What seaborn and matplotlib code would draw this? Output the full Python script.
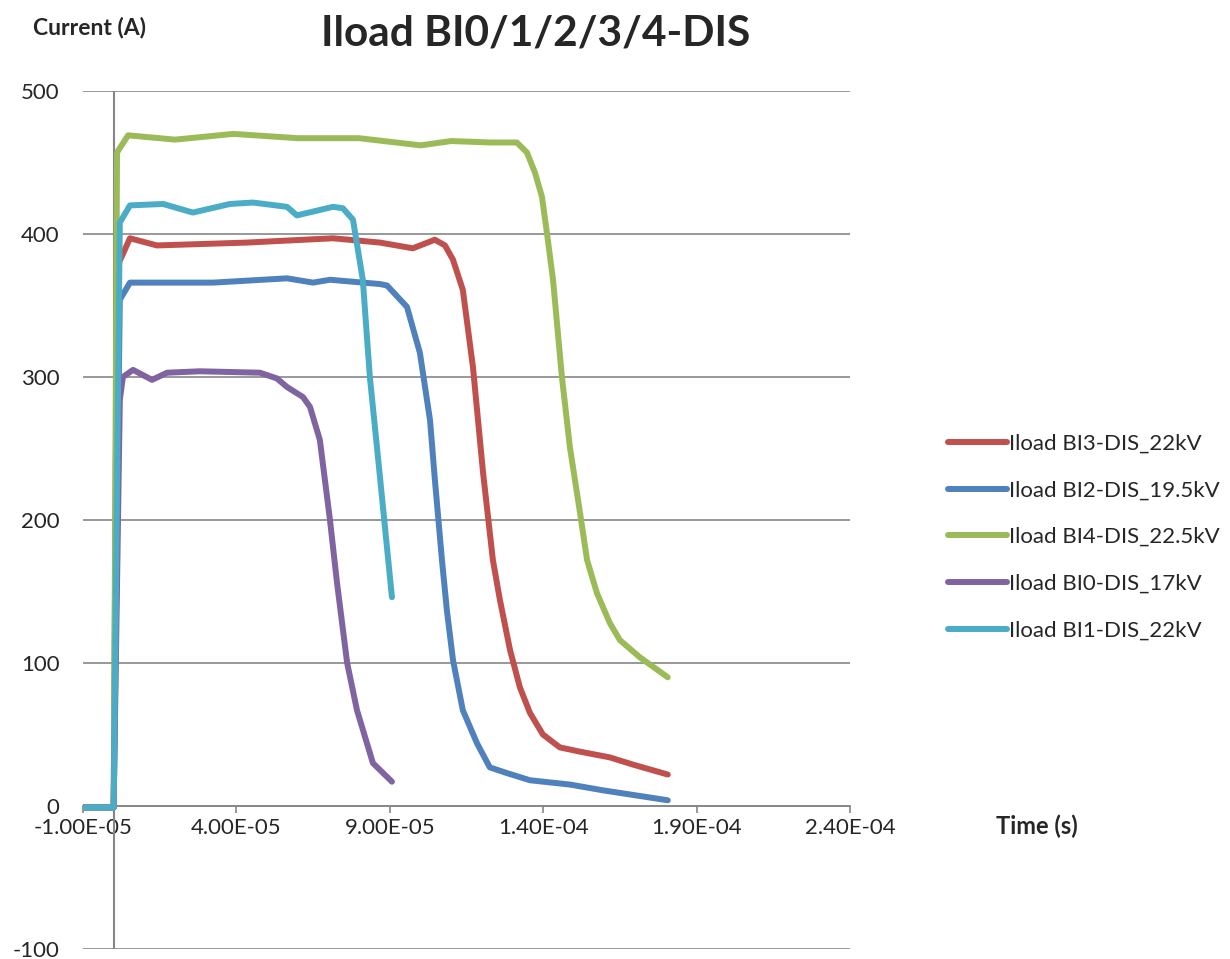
import numpy as np
import pandas as pd
import matplotlib
matplotlib.use("Agg")
import matplotlib.pyplot as plt
import seaborn as sns

# Values (time in s, current in A)
bi3_t = [-1.0e-5, -5.0e-6, 0.0, 1.1e-6, 5.3e-6, 1.41e-5, 4.34e-5, 7.15e-5, 8.68e-5, 9.75e-5, 1.047e-4,
         1.08e-4, 1.106e-4, 1.138e-4, 1.171e-4, 1.204e-4, 1.236e-4, 1.259e-4, 1.292e-4, 1.324e-4,
         1.357e-4, 1.399e-4, 1.454e-4, 1.520e-4, 1.617e-4, 1.692e-4, 1.806e-4]
bi3_i = [-1, -1, -1, 377, 397, 392, 394, 397, 394, 390, 396,
         392, 382, 361, 307, 233, 172, 144, 109, 83,
         65, 50, 41, 38, 34, 29, 22]

bi2_t = [-1.0e-5, -5.0e-6, 0.0, 2.0e-6, 5.3e-6, 3.24e-5, 5.65e-5, 6.5e-5, 7.05e-5, 8.68e-5, 8.91e-5,
         9.56e-5, 9.98e-5, 1.031e-4, 1.047e-4, 1.070e-4, 1.086e-4, 1.106e-4, 1.138e-4, 1.184e-4,
         1.226e-4, 1.282e-4, 1.357e-4, 1.487e-4, 1.594e-4, 1.806e-4]
bi2_i = [-1, -1, -1, 354, 366, 366, 369, 366, 368, 365, 364,
         349, 317, 270, 228, 172, 137, 102, 67, 44,
         27, 23, 18, 15, 11, 4]

bi4_t = [-1.0e-5, -5.0e-6, 0.0, 1.1e-6, 4.7e-6, 2.0e-5, 3.9e-5, 6.0e-5, 8.0e-5, 1.0e-4, 1.1e-4,
         1.227e-4, 1.314e-4, 1.347e-4, 1.373e-4, 1.396e-4, 1.412e-4, 1.432e-4, 1.461e-4, 1.487e-4,
         1.520e-4, 1.543e-4, 1.575e-4, 1.617e-4, 1.650e-4, 1.715e-4, 1.806e-4]
bi4_i = [-1, -1, -1, 457, 469, 466, 470, 467, 467, 462, 465,
         464, 464, 457, 443, 426, 401, 368, 300, 251,
         205, 172, 149, 128, 116, 104, 90]

bi0_t = [-1.0e-5, -5.0e-6, 0.0, 2.0e-6, 3.0e-6, 6.3e-6, 1.25e-5, 1.74e-5, 2.81e-5, 4.77e-5, 5.32e-5,
         5.65e-5, 6.17e-5, 6.4e-5, 6.72e-5, 7.05e-5, 7.28e-5, 7.61e-5, 7.93e-5, 8.45e-5, 9.07e-5]
bi0_i = [-1, -1, -1, 284, 300, 305, 298, 303, 304, 303, 299,
         293, 286, 279, 256, 200, 156, 100, 67, 30, 17]

bi1_t = [-1.0e-5, -5.0e-6, 0.0, 2.0e-6, 5.3e-6, 1.61e-5, 2.58e-5, 3.79e-5, 4.54e-5, 5.65e-5, 5.97e-5,
         7.15e-5, 7.47e-5, 7.80e-5, 8.12e-5, 8.35e-5, 8.68e-5, 9.07e-5]
bi1_i = [-1, -1, -1, 408, 420, 421, 415, 421, 422, 419, 413,
         419, 418, 410, 368, 300, 230, 146]

series_names = ["Iload BI3-DIS_22kV", "Iload BI2-DIS_19.5kV", "Iload BI4-DIS_22.5kV",
                "Iload BI0-DIS_17kV", "Iload BI1-DIS_22kV"]
series_colors = ["#C0504D", "#4F81BD", "#9BBB59", "#8064A2", "#4BACC6"]
x_ticks = [-1.0e-5, 4.0e-5, 9.0e-5, 1.4e-4, 1.9e-4, 2.4e-4]
y_ticks = [-100, 0, 100, 200, 300, 400, 500]

frames = []
for name, t, i in zip(series_names,
                      [bi3_t, bi2_t, bi4_t, bi0_t, bi1_t],
                      [bi3_i, bi2_i, bi4_i, bi0_i, bi1_i]):
    frames.append(pd.DataFrame({"Time": t, "Current": i, "Series": name}))
df = pd.concat(frames, ignore_index=True)

sns.set_style("white")
plt.rcParams['font.family'] = ['Lato', 'DejaVu Sans']

fig = plt.figure(figsize=(12.3, 9.59), dpi=100)
ax = fig.add_axes([83 / 1230, 1 - 949 / 959, (850 - 83) / 1230, (949 - 91) / 959])

sns.lineplot(data=df, x="Time", y="Current", hue="Series", hue_order=series_names,
             palette=dict(zip(series_names, series_colors)), estimator=None, sort=False,
             linewidth=4.3, ax=ax, solid_capstyle="round", solid_joinstyle="round", zorder=3)

ax.set_xlim(-1.0e-5, 2.4e-4)
ax.set_ylim(-100, 500)
ax.set_xticks(x_ticks)
ax.set_xticklabels(["%.2E" % v for v in x_ticks])
ax.set_yticks(y_ticks)
ax.set_yticklabels([str(v) for v in y_ticks])
ax.set_xlabel("")
ax.set_ylabel("")

grid_c = "#868686"
ax.yaxis.grid(True, color=grid_c, linewidth=1.2)
ax.xaxis.grid(False)
for s in ["top", "right", "left"]:
    ax.spines[s].set_visible(False)
ax.spines["bottom"].set_position(("data", 0))
ax.spines["bottom"].set_color(grid_c)
ax.spines["bottom"].set_linewidth(1.2)
ax.axvline(0, color=grid_c, linewidth=1.5, zorder=2)

ax.tick_params(axis="x", direction="out", length=5, width=1.2, color=grid_c,
               labelsize=16, pad=4, bottom=True)
ax.tick_params(axis="y", length=0, labelsize=16, pad=17)

ax.legend(loc="upper left", bbox_to_anchor=(930 / 1230, 1 - 416 / 959),
          bbox_transform=fig.transFigure, frameon=False, fontsize=16,
          handlelength=2.65, handletextpad=0.1, labelspacing=1.2, borderpad=0.3)
for line in ax.get_legend().get_lines():
    line.set_linewidth(4.3)

fig.text(536 / 1230, 1 - 33 / 959, "Iload BI0/1/2/3/4-DIS", ha="center", va="center",
         fontsize=30.5, fontweight="bold")
fig.text(33 / 1230, 1 - 28 / 959, "Current (A)", ha="left", va="center",
         fontsize=16.5, fontweight="bold")
fig.text(996 / 1230, 1 - 826 / 959, "Time (s)", ha="left", va="center",
         fontsize=17, fontweight="bold")

fig.savefig("out.png", dpi=100)
